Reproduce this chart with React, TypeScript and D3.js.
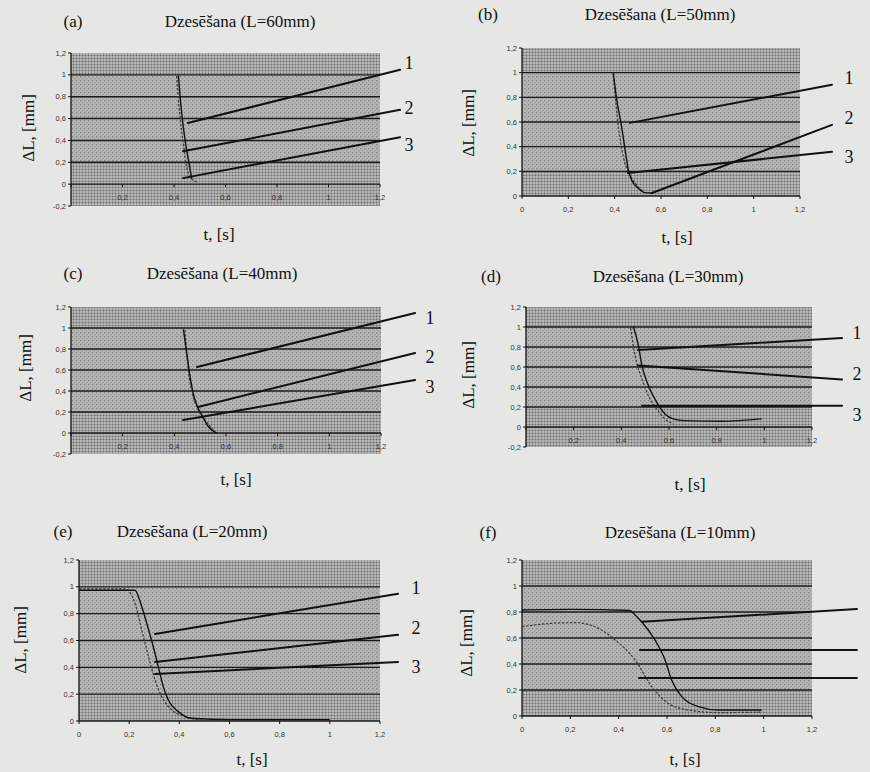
import React from 'react';
import * as d3 from 'd3';

type P = [number, number];
type L = [number, number, number, number];

// ---- data ----
const panelIds = ['a', 'b', 'c', 'd', 'e', 'f'];
const panelLengths = [60, 50, 40, 30, 20, 10];
const yMins = [-0.2, 0, -0.2, -0.2, 0, 0];
const yMax = 1.2;
const xMin = 0;
const xMax = 1.2;
const xTicks = [0, 0.2, 0.4, 0.6, 0.8, 1, 1.2];
const gridValues = [0, 0.2, 0.4, 0.6, 0.8, 1];
const leaderNames = ['1', '2', '3'];

const aSolid: P[] = [[0.417, 0.994], [0.426, 0.74], [0.436, 0.526], [0.447, 0.342], [0.456, 0.22], [0.469, 0.052]];
const aDashed: P[] = [[0.41, 0.99], [0.423, 0.617], [0.436, 0.373], [0.449, 0.159], [0.462, 0.067], [0.49, 0.02]];
const aLeaders: L[] = [[0.454, 0.56, 1.278, 1.046], [0.435, 0.3, 1.278, 0.68], [0.435, 0.055, 1.278, 0.43]];
const aLabels: P[] = [[1.313, 1.11], [1.313, 0.7], [1.313, 0.36]];

const bSolid: P[] = [[0.394, 0.997], [0.409, 0.78], [0.43, 0.563], [0.445, 0.374], [0.459, 0.211], [0.473, 0.13], [0.502, 0.063], [0.531, 0.027], [0.561, 0.024]];
const bDashed: P[] = [[0.394, 0.984], [0.416, 0.563], [0.437, 0.32], [0.466, 0.171], [0.495, 0.089], [0.524, 0.035]];
const bLeaders: L[] = [[0.466, 0.593, 1.338, 0.902], [0.561, 0.024, 1.338, 0.577], [0.457, 0.187, 1.338, 0.358]];
const bLabels: P[] = [[1.411, 0.959], [1.411, 0.632], [1.411, 0.32]];

const cSolid: P[] = [[0.435, 0.988], [0.448, 0.759], [0.461, 0.536], [0.473, 0.378], [0.487, 0.267], [0.506, 0.171], [0.532, 0.06], [0.564, 0.0]];
const cDashed: P[] = [[0.441, 0.98], [0.454, 0.6], [0.473, 0.346], [0.493, 0.219], [0.519, 0.124], [0.551, 0.029]];
const cLeaders: L[] = [[0.488, 0.629, 1.332, 1.143], [0.492, 0.248, 1.332, 0.762], [0.434, 0.124, 1.332, 0.505]];
const cLabels: P[] = [[1.39, 1.095], [1.39, 0.724], [1.39, 0.438]];

const dSolid: P[] = [[0.45, 1.007], [0.471, 0.821], [0.486, 0.619], [0.513, 0.417], [0.548, 0.249], [0.583, 0.131], [0.618, 0.081], [0.667, 0.064], [0.821, 0.057], [0.989, 0.081]];
const dDashed: P[] = [[0.439, 0.99], [0.457, 0.72], [0.486, 0.485], [0.513, 0.316], [0.548, 0.182], [0.583, 0.081], [0.618, 0.03]];
const dLeaders: L[] = [[0.47, 0.77, 1.326, 0.89], [0.47, 0.616, 1.326, 0.475], [0.487, 0.212, 1.326, 0.212]];
const dLabels: P[] = [[1.389, 0.939], [1.389, 0.53], [1.389, 0.125]];

const eSolid: P[] = [[0, 0.975], [0.223, 0.975], [0.25, 0.853], [0.27, 0.729], [0.296, 0.555], [0.316, 0.405], [0.336, 0.256], [0.356, 0.157], [0.396, 0.07], [0.449, 0.02], [0.6, 0.01], [1.0, 0.01]];
const eDashed: P[] = [[0, 0.985], [0.183, 0.985], [0.223, 0.878], [0.25, 0.679], [0.277, 0.48], [0.303, 0.306], [0.33, 0.181], [0.37, 0.082], [0.423, 0.032], [0.489, 0.007]];
const eLeaders: L[] = [[0.303, 0.649, 1.272, 0.948], [0.303, 0.44, 1.272, 0.642], [0.303, 0.351, 1.272, 0.44]];
const eLabels: P[] = [[1.344, 0.99], [1.344, 0.692], [1.344, 0.405]];

const fSolid: P[] = [[0, 0.815], [0.2, 0.82], [0.447, 0.812], [0.468, 0.777], [0.495, 0.725], [0.55, 0.585], [0.592, 0.431], [0.619, 0.277], [0.661, 0.149], [0.73, 0.072], [0.812, 0.046], [0.992, 0.046]];
const fDashed: P[] = [[0, 0.687], [0.123, 0.713], [0.219, 0.718], [0.302, 0.687], [0.385, 0.585], [0.468, 0.431], [0.537, 0.226], [0.605, 0.097], [0.688, 0.046], [0.812, 0.026], [0.992, 0.03]];
const fLeaders: L[] = [[0.495, 0.725, 1.386, 0.823], [0.488, 0.508, 1.386, 0.508], [0.484, 0.292, 1.386, 0.292]];
const fLabels: P[] = [];

const solids = [aSolid, bSolid, cSolid, dSolid, eSolid, fSolid];
const dasheds = [aDashed, bDashed, cDashed, dDashed, eDashed, fDashed];
const leaders = [aLeaders, bLeaders, cLeaders, dLeaders, eLeaders, fLeaders];
const labels = [aLabels, bLabels, cLabels, dLabels, eLabels, fLabels];

// ---- layout (pixels) ----
const boxes = [
  { l: 71, r: 380, t: 53, b: 206 },
  { l: 522, r: 800, t: 48, b: 196 },
  { l: 71, r: 381, t: 307, b: 454 },
  { l: 526, r: 812, t: 307, b: 447 },
  { l: 79, r: 380, t: 560, b: 721 },
  { l: 522, r: 812, t: 560, b: 716 },
];
const tagPos = [[73, 27], [488, 20], [73, 279], [491, 282], [63, 537], [488, 538]];
const titlePos = [[240, 27], [660, 20], [222, 279], [668, 282], [192, 537], [680, 538]];
const yLabelPos = [[28, 128], [468, 123], [25, 368], [468, 375], [20, 640], [466, 643]];
const xLabelPos = [[219, 240], [677, 243], [236, 485], [690, 490], [252, 765], [685, 765]];

const fmt = (v: number) => String(+v.toFixed(1)).replace('.', ',');
const serif = "'Liberation Serif', 'Times New Roman', Times, serif";
const sans = "'Liberation Sans', Arial, sans-serif";

function Panel({ i }: { i: number }) {
  const box = boxes[i];
  const yMin = yMins[i];
  const x = d3.scaleLinear().domain([xMin, xMax]).range([box.l, box.r]);
  const y = d3.scaleLinear().domain([yMin, yMax]).range([box.b, box.t]);
  const line = d3.line<P>().x(d => x(d[0])).y(d => y(d[1])).curve(d3.curveMonotoneX);
  const yTicks = d3.range(Math.round(yMin * 5), Math.round(yMax * 5) + 1).map(k => k / 5);
  const y0 = y(0);
  const neg = yMin < 0;
  const w = box.r - box.l;
  const serifStyle = { fontFamily: serif };
  const sansStyle = { fontFamily: sans };
  return (
    <g>
      <rect x={box.l} y={y(1.2)} width={w} height={y(1) - y(1.2)} fill="url(#pDark)" />
      <rect x={box.l} y={y(1)} width={w} height={y(0.2) - y(1)} fill="url(#pLight)" />
      <rect x={box.l} y={y(0.2)} width={w} height={y(yMin) - y(0.2)} fill="url(#pDark)" />
      {gridValues.map(g => (
        <line key={g} x1={box.l} x2={box.r} y1={y(g)} y2={y(g)} stroke="#1a1a1a" strokeWidth={1.4} />
      ))}
      <line x1={box.l} x2={box.l} y1={y(yMin)} y2={y(yMax)} stroke="#111" strokeWidth={1.3} />
      {yTicks.map(t => (
        <g key={t}>
          <line x1={box.l - 3} x2={box.l} y1={y(t)} y2={y(t)} stroke="#111" strokeWidth={1} />
          <text x={box.l - 5} y={y(t)} dy="0.35em" textAnchor="end" style={sansStyle} fontSize={7.5} fill="#333">
            {fmt(t)}
          </text>
        </g>
      ))}
      {xTicks.map(t => (
        <g key={t}>
          <line x1={x(t)} x2={x(t)} y1={y0} y2={y0 + 3} stroke="#111" strokeWidth={1} />
          {(!neg || t > 0) && (
            <text x={x(t)} y={y0 + 13} dy="0.35em" textAnchor="middle" style={sansStyle} fontSize={7.5} fill="#333">
              {fmt(t)}
            </text>
          )}
        </g>
      ))}
      <path d={line(dasheds[i]) || ''} fill="none" stroke="#3a3a3a" strokeWidth={1.2} strokeDasharray="2.5,1.5" />
      <path d={line(solids[i]) || ''} fill="none" stroke="#111" strokeWidth={1.4} />
      {leaders[i].map((s, k) => (
        <line key={k} x1={x(s[0])} y1={y(s[1])} x2={x(s[2])} y2={y(s[3])} stroke="#111" strokeWidth={2} strokeLinecap="round" />
      ))}
      {labels[i].map((p, k) => (
        <text key={k} x={x(p[0])} y={y(p[1])} dy="0.35em" textAnchor="middle" style={serifStyle} fontSize={18} fill="#111">
          {leaderNames[k]}
        </text>
      ))}
      <text x={tagPos[i][0]} y={tagPos[i][1]} textAnchor="middle" style={serifStyle} fontSize={17} fill="#111">
        ({panelIds[i]})
      </text>
      <text x={titlePos[i][0]} y={titlePos[i][1]} textAnchor="middle" style={serifStyle} fontSize={17} fill="#111">
        {`Dzesēšana (L=${panelLengths[i]}mm)`}
      </text>
      <text
        transform={`translate(${yLabelPos[i][0]},${yLabelPos[i][1]}) rotate(-90)`}
        dy="0.35em"
        textAnchor="middle"
        style={serifStyle}
        fontSize={17}
        fill="#111"
      >
        ΔL, [mm]
      </text>
      <text x={xLabelPos[i][0]} y={xLabelPos[i][1]} textAnchor="middle" style={serifStyle} fontSize={17} fill="#111">
        t, [s]
      </text>
    </g>
  );
}

export default function App() {
  return (
    <svg width={870} height={772} style={{ position: 'absolute', left: 0, top: 0 }}>
      <defs>
        <pattern id="pLight" width={4} height={4} patternUnits="userSpaceOnUse">
          <rect width={4} height={4} fill="#b6b6b6" />
          <rect x={0} y={0} width={1.4} height={1.4} fill="#858585" />
          <rect x={2} y={2} width={1.4} height={1.4} fill="#9a9a9a" />
        </pattern>
        <pattern id="pDark" width={3} height={3} patternUnits="userSpaceOnUse">
          <rect width={3} height={3} fill="#bcbcbc" />
          <circle cx={1.5} cy={1.5} r={1.05} fill="#6e6e6e" />
        </pattern>
      </defs>
      <rect width={870} height={772} fill="#e6e6e4" />
      {panelIds.map((_, i) => (
        <Panel key={i} i={i} />
      ))}
    </svg>
  );
}
